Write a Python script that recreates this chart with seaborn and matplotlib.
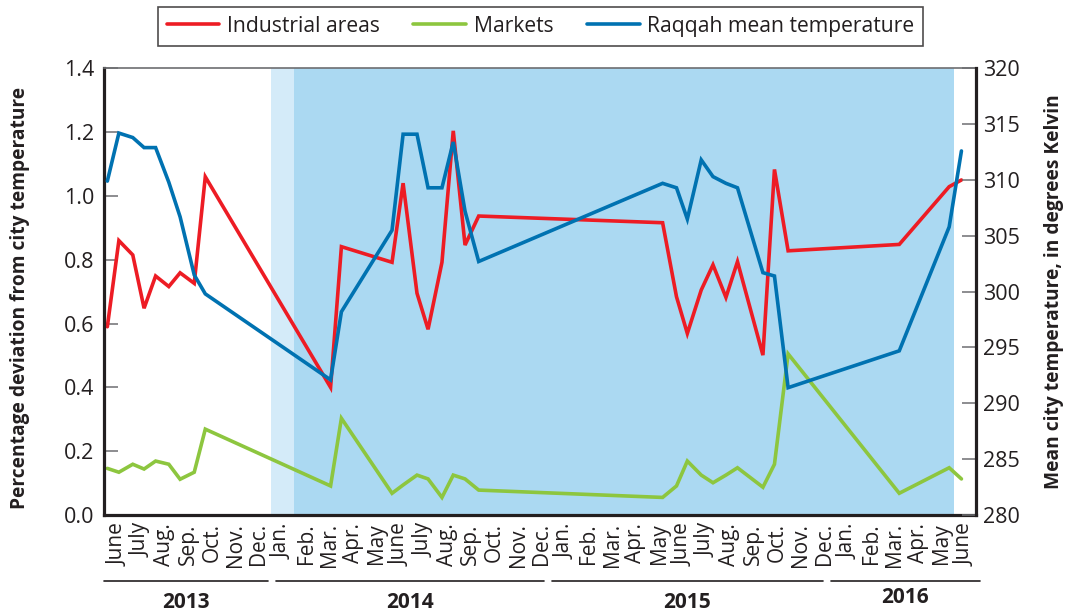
import matplotlib
matplotlib.use("Agg")
import matplotlib.pyplot as plt
from matplotlib.lines import Line2D
import numpy as np
import pandas as pd
import seaborn as sns

# Observation times, in months counted from 1 June 2013
month_pos = [0.06, 0.55, 1.14, 1.62, 2.11, 2.67, 3.15, 3.75, 4.22,
             9.54, 10.0, 12.15, 12.62, 13.21, 13.68, 14.27, 14.75, 15.25, 15.83,
             23.64, 24.23, 24.69, 25.28, 25.78, 26.33, 26.82, 27.90, 28.39, 28.97,
             33.69, 35.81, 36.33]

# Percentage deviation from city temperature
industrial = [0.59, 0.86, 0.815, 0.648, 0.749, 0.716, 0.759, 0.726, 1.06,
              0.40, 0.841, 0.792, 1.04, 0.695, 0.582, 0.792, 1.204, 0.846, 0.937,
              0.916, 0.684, 0.569, 0.705, 0.784, 0.682, 0.794, 0.501, 1.083, 0.828,
              0.848, 1.029, 1.05]
markets = [0.146, 0.134, 0.159, 0.144, 0.169, 0.159, 0.112, 0.134, 0.269,
           0.091, 0.303, 0.068, 0.094, 0.125, 0.113, 0.055, 0.125, 0.113, 0.078,
           0.055, 0.091, 0.169, 0.125, 0.101, 0.125, 0.148, 0.087, 0.159, 0.505,
           0.068, 0.148, 0.113]

# Raqqah mean temperature, in kelvin
raqqah_temp = [309.9, 314.2, 313.8, 312.9, 312.9, 309.8, 306.7, 301.5, 299.8,
               292.1, 298.2, 305.5, 314.1, 314.1, 309.3, 309.3, 313.4, 307.2, 302.7,
               309.7, 309.3, 306.5, 311.8, 310.3, 309.7, 309.3, 301.7, 301.4, 291.4,
               294.7, 305.8, 312.6]

month_names = ["Jan.", "Feb.", "Mar.", "Apr.", "May", "June",
               "July", "Aug.", "Sep.", "Oct.", "Nov.", "Dec."]
# June 2013 .. June 2016
month_labels = [month_names[(5 + i) % 12] for i in range(37)]
year_labels = ["2013", "2014", "2015", "2016"]

series_names = ["Industrial areas", "Markets", "Raqqah mean temperature"]
colors = {"Industrial areas": "#ed1c24",
          "Markets": "#8dc63f",
          "Raqqah mean temperature": "#0072b1"}

dev_df = pd.DataFrame({
    "month": month_pos * 2,
    "deviation": industrial + markets,
    "series": ["Industrial areas"] * len(industrial) + ["Markets"] * len(markets),
})
temp_df = pd.DataFrame({"month": month_pos, "temperature": raqqah_temp})

sns.set_style("white")
plt.rcParams["font.family"] = ["Open Sans", "DejaVu Sans"]
ink = "#231f20"
grey = "#6d6e71"
plt.rcParams["text.color"] = ink

fig = plt.figure(figsize=(10.66, 6.16), dpi=100)
ax = fig.add_axes([0.0976, 0.164, 0.818, 0.7251])
ax2 = ax.twinx()

# Shaded periods
ax.axvspan(7, 8, color="#d4ebf9", lw=0, zorder=0)
ax.axvspan(8, 36, color="#abd9f2", lw=0, zorder=0)

lw = 2.6
sns.lineplot(data=dev_df, x="month", y="deviation", hue="series",
             hue_order=series_names[:2], palette=colors, estimator=None,
             lw=lw, legend=False, ax=ax, solid_joinstyle="miter")
sns.lineplot(data=temp_df, x="month", y="temperature", color=colors[series_names[2]],
             estimator=None, lw=lw, legend=False, ax=ax2, solid_joinstyle="miter")

ax.set_xlim(-0.08, 36.95)
ax.set_ylim(0, 1.4)
ax2.set_ylim(280, 320)

ax.set_yticks(np.arange(0, 1.41, 0.2))
ax.set_yticklabels([f"{v:.1f}" for v in np.arange(0, 1.41, 0.2)])
ax2.set_yticks(np.arange(280, 321, 5))

ax.set_xticks(np.arange(1, 37))
ax.set_xticklabels([])
ax.set_xticks(np.arange(37) + 0.5, minor=True)
ax.set_xticklabels(month_labels, minor=True, rotation=90, fontsize=15, color=ink)
ax.tick_params(axis="x", which="major", direction="in", length=9.5, width=1.1, color=ink)
ax.tick_params(axis="x", which="minor", length=0, pad=6)
ax.tick_params(axis="y", direction="in", length=10, width=1.1, color=grey,
               labelsize=15.5, labelcolor=ink, pad=7)
ax2.tick_params(axis="y", direction="in", length=10, width=1.1, color=grey,
                labelsize=15.5, labelcolor=ink, pad=5)

for a in (ax, ax2):
    for s in a.spines.values():
        s.set_visible(False)
for side in ("left", "bottom"):
    ax.spines[side].set_visible(True)
    ax.spines[side].set_linewidth(2.3)
    ax.spines[side].set_color(ink)
ax2.spines["right"].set_visible(True)
ax2.spines["right"].set_linewidth(2.3)
ax2.spines["right"].set_color(ink)
ax.spines["top"].set_visible(True)
ax.spines["top"].set_linewidth(1.2)
ax.spines["top"].set_color(grey)

ax.set_xlabel("")
ax.set_ylabel("Percentage deviation from city temperature", fontsize=13.8,
              fontweight="bold", color=ink)
ax.yaxis.set_label_coords(-0.085, 0.487)
ax2.set_ylabel("Mean city temperature, in degrees Kelvin", fontsize=13.8,
               fontweight="bold", color=ink, labelpad=17)

# Year brackets under the month labels
trans = ax.get_xaxis_transform()
year_spans = [(-0.07, 6.9), (7.21, 18.6), (18.93, 30.44), (30.78, 37.1)]
year_text_y = [-0.197, -0.197, -0.197, -0.184]
for label, (x0, x1), ty in zip(year_labels, year_spans, year_text_y):
    ax.plot([x0, x1], [-0.147, -0.147], transform=trans, color=ink, lw=1.2,
            clip_on=False)
    ax.text((x0 + x1) / 2, ty, label, transform=trans, ha="center", va="center",
            fontsize=15, fontweight="bold", color=ink)

handles = [Line2D([], [], color=colors[n], lw=lw) for n in series_names]
leg = fig.legend(handles, series_names, loc="upper center",
                 bbox_to_anchor=(0.507, 0.989), ncol=3, frameon=True,
                 fancybox=False, edgecolor=ink, fontsize=15.2, handlelength=2.5,
                 columnspacing=1.6, handletextpad=0.35, borderpad=0.42,
                 borderaxespad=0)
leg.get_frame().set_linewidth(1.2)

fig.savefig("out.png", dpi=100)
